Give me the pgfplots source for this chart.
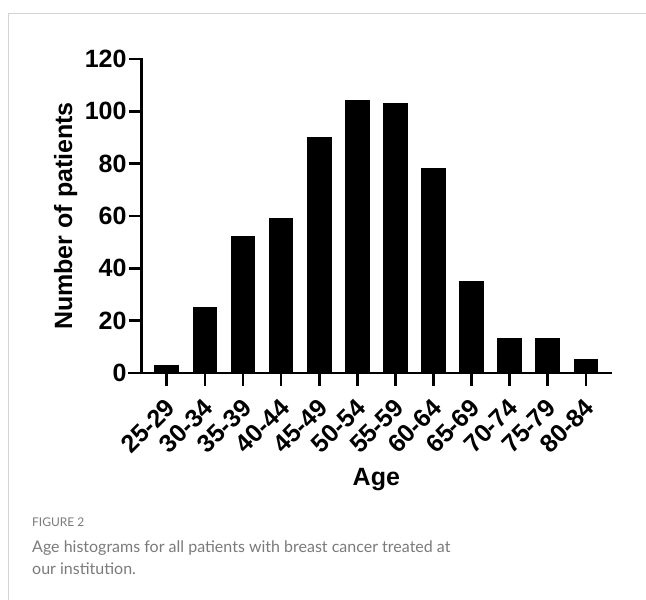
\documentclass[border=0pt]{standalone}
\usepackage{fontspec}
\setmainfont{Liberation Sans}
\newfontfamily\capfont{Lato}
\usepackage{pgfplots}
\pgfplotsset{compat=1.18}
\definecolor{framegray}{HTML}{D4D4D4}
\definecolor{capgray}{HTML}{7A7A7A}
\begin{document}
\begin{tikzpicture}[x=1pt,y=1pt]
\useasboundingbox (0,0) rectangle (646,600);
\draw[framegray, line width=1pt] (8,0) -- (8,586) -- (646,586);
\begin{axis}[
  at={(141.7pt,227pt)}, anchor=south west,
  scale only axis,
  width=469.3pt, height=314pt,
  xmin=-0.66, xmax=11.66,
  ymin=0, ymax=120,
  clip=false,
  axis x line*=bottom,
  axis y line*=left,
  axis line style={line width=2.7pt, line cap=rect},
  every tick/.style={line width=2.7pt, black},
  tick align=outside,
  major tick length=13pt,
  ytick={0,20,...,120},
  xtick={0,...,11},
  xticklabels={25-29,30-34,35-39,40-44,45-49,50-54,55-59,60-64,65-69,70-74,75-79,80-84},
  /pgf/number format/assume math mode=true,
  tick label style={font=\fontsize{25}{28}\selectfont\bfseries},
  x tick label style={rotate=45, anchor=north east, inner sep=1pt, xshift=-8.5pt, yshift=-5pt},
  y tick label style={inner sep=2pt},
  ylabel={Number of patients},
  xlabel={Age},
  label style={font=\fontsize{25}{30}\selectfont\bfseries},
  ylabel style={at={(axis description cs:-0.1485,0.5)}, anchor=base, rotate=0},
  xlabel style={at={(axis description cs:0.5,-0.357)}, anchor=base},
  ybar, bar width=23.7pt,
]
\addplot[fill=black, draw=black, line width=1pt] coordinates {
(0,3) (1,25) (2,52) (3,59) (4,90) (5,104) (6,103) (7,78) (8,35) (9,13) (10,13) (11,5)
};
\draw[line width=2.7pt] (axis cs:-1.02,0) -- (axis cs:-0.66,0);
\end{axis}
\node[anchor=base west, inner sep=0pt, font=\capfont\fontsize{12}{14}\selectfont, text=capgray] at (32,73) {FIGURE 2};
\node[anchor=base west, inner sep=0pt, font=\capfont\fontsize{16}{19}\selectfont, text=capgray] at (32,47) {Age histograms for all patients with breast cancer treated at};
\node[anchor=base west, inner sep=0pt, font=\capfont\fontsize{16}{19}\selectfont, text=capgray] at (32,25) {our institution.};
\end{tikzpicture}
\end{document}
